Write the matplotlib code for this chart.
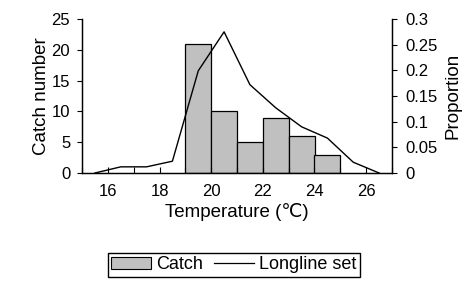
import matplotlib
matplotlib.use("Agg")
import matplotlib.pyplot as plt
from matplotlib.patches import Patch
from matplotlib.lines import Line2D

plt.rcParams['font.family'] = ['Liberation Sans', 'DejaVu Sans']
plt.rcParams['font.size'] = 11

# catch histogram (1 degree bins)
bin_left = [19, 20, 21, 22, 23, 24]
catch = [21, 10, 5, 9, 6, 3]

# proportion of longline sets at bin midpoints
set_temp = [15.5, 16.5, 17.5, 18.5, 19.5, 20.5, 21.5, 22.5, 23.5, 24.5, 25.5, 26.5]
set_prop = [0.0, 0.012, 0.012, 0.023, 0.199, 0.275, 0.172, 0.127, 0.090, 0.068, 0.021, 0.0]

left_ticks = [0, 5, 10, 15, 20, 25]
right_ticks = [0, 0.05, 0.1, 0.15, 0.2, 0.25, 0.3]
right_labels = ['0', '0.05', '0.1', '0.15', '0.2', '0.25', '0.3']
x_ticks = [16, 18, 20, 22, 24, 26]

fig = plt.figure(figsize=(4.65, 2.86), dpi=100)
ax = fig.add_axes([82/465, 1 - 173/286, 310/465, 154/286])
ax2 = ax.twinx()

ax.bar(bin_left, catch, width=1, align='edge', color='#c0c0c0',
       edgecolor='black', linewidth=0.9)
ax2.plot(set_temp, set_prop, color='black', linewidth=1.0)

ax.set_xlim(15, 27)
ax.set_ylim(0, 25)
ax2.set_ylim(0, 0.3)

ax.set_xticks(x_ticks)
ax.set_xticks(range(15, 28), minor=True)
ax.tick_params(axis='x', which='both', direction='in', length=4, width=0.8, pad=8,
               labelsize=12)
ax.set_yticks(left_ticks)
ax.tick_params(axis='y', direction='out', length=3.5, width=0.8, pad=5, labelsize=12)
ax2.set_yticks(right_ticks)
ax2.set_yticklabels(right_labels)
ax2.tick_params(axis='y', direction='out', length=3.5, width=0.8, pad=6, labelsize=12)

for a in (ax, ax2):
    a.spines['top'].set_visible(False)
    for s in ('left', 'right', 'bottom'):
        a.spines[s].set_linewidth(0.9)

ax.set_ylabel('Catch number', fontsize=13.5, labelpad=1)
ax2.set_ylabel('Proportion', fontsize=13.5, labelpad=5)
ax.set_xlabel('Temperature (℃)', fontsize=13.5, labelpad=2.5)

handles = [Patch(facecolor='#c0c0c0', edgecolor='black', linewidth=0.8),
           Line2D([], [], color='black', linewidth=0.9)]
fig.legend(handles, ['Catch', 'Longline set'], loc='lower center', fontsize=13,
           bbox_to_anchor=(234/465, 0), ncol=2, frameon=True, fancybox=False,
           edgecolor='black', framealpha=1, handlelength=2.2, handleheight=0.6,
           columnspacing=0.6, handletextpad=0.3, borderpad=0.2)

fig.savefig('out.png', dpi=100)
